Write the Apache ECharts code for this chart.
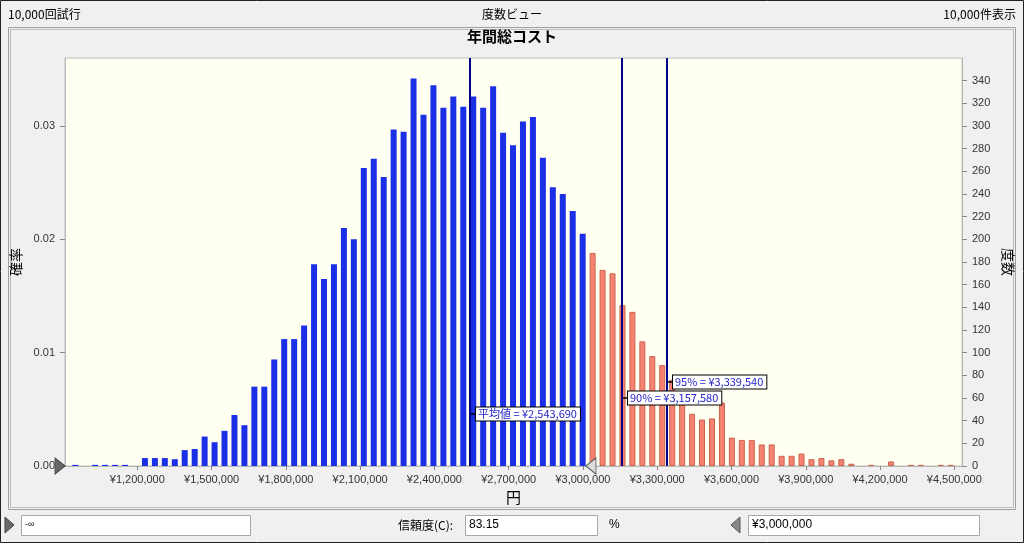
<!DOCTYPE html>
<html><head><meta charset="utf-8">
<script src="https://cdn.jsdelivr.net/npm/echarts@6/dist/echarts.min.js"></script>
<style>html,body{margin:0;padding:0;background:#f0f0f0;}#c{width:1024px;height:543px;}</style>
</head><body><div id="c"></div>
<script>
// ---- data ----
const trials = 10000;
const shownCount = 10000;
const binStart = 929400;   // lower edge of first bin (yen)
const binWidth = 40184;    // bin width (yen)
const counts = [1,0,1,1,1,1,0,7,7,7,6,14,15,26,21,31,45,36,70,70,94,112,112,124,178,165,178,210,200,263,271,255,297,295,342,310,336,316,326,317,326,316,335,294,283,304,308,272,246,240,225,205,188,173,170,142,136,110,97,89,76,64,46,41,42,56,25,23,23,19,19,9,9,11,6,7,5,6,2,0,1,0,4,0,1,1,0,1,1];
const meanValue = 2543690;
const p90Value = 3157580;
const p95Value = 3339540;
const certaintyLower = '-∞';
const certaintyUpper = 3000000;
const certaintyPct = '83.15';
const xMin = 907900, xMax = 4531100;
const countMax = 360;
const probTicks = ['0.00','0.01','0.02','0.03'];

const yen = v => '¥' + Math.round(v).toLocaleString('en-US');
const F = '"Liberation Sans","Noto Sans CJK JP",sans-serif';
const FJ = '"Noto Sans CJK JP","Liberation Sans",sans-serif';

const blue = {color:'#1a2fe6'};
const red = {color:'#f68372', borderColor:'#c8644f', borderWidth:1};
const barData = [];
counts.forEach((c,i)=>{
  if (c > 0) barData.push({value:[binStart + binWidth*(i+0.5), c], itemStyle: (binStart + binWidth*i < certaintyUpper) ? blue : red});
});

function valLabel(v, text, dy){
  return {coord:[v,0], symbol:'rect', symbolSize:[5,1.5], symbolOffset:[3.5,dy],
    itemStyle:{color:'#000'},
    label:{show:true, position:'right', distance:0, formatter:text,
      backgroundColor:'#fff', borderColor:'#000', borderWidth:1, padding:[1,3,0,2],
      fontSize:11, lineHeight:12, color:'#2323c8', fontFamily:FJ}};
}

const chart = echarts.init(document.getElementById('c'), null, {renderer:'canvas'});
chart.setOption({
  animation:false,
  backgroundColor:'#f0f0f0',
  title:{text:'年間総コスト', left:'center', top:29, padding:0,
    textStyle:{fontSize:15, fontWeight:'bold', color:'#000', fontFamily:FJ}},
  grid:{left:65, right:62, top:58, bottom:77, show:true, backgroundColor:'#fffff2', borderColor:'#c0c0c0', borderWidth:1},
  xAxis:{type:'value', min:xMin, max:xMax, splitNumber:12,
    axisLine:{show:true, lineStyle:{color:'#b8b8b8'}},
    axisTick:{show:true, length:4, lineStyle:{color:'#888'}},
    axisLabel:{formatter:v=>yen(v), fontSize:11, color:'#333', margin:8, showMinLabel:false, showMaxLabel:false, hideOverlap:false, fontFamily:F},
    splitLine:{show:false},
    name:'円', nameLocation:'middle', nameGap:19, nameTextStyle:{fontSize:15, color:'#000', fontFamily:FJ}},
  yAxis:[
    {type:'value', position:'left', min:0, max:countMax/trials, interval:0.01,
      axisLine:{show:true, lineStyle:{color:'#b8b8b8'}},
      axisTick:{show:true, length:5, lineStyle:{color:'#888'}},
      axisLabel:{formatter:(v)=>{const i=Math.round(v*100); return probTicks[i]||'';}, fontSize:11, color:'#333', margin:10, showMaxLabel:false, fontFamily:F},
      splitLine:{show:false},
      name:'確率', nameLocation:'middle', nameGap:34, nameTextStyle:{fontSize:14, color:'#000', fontFamily:FJ}},
    {type:'value', position:'right', min:0, max:countMax, interval:20,
      axisLine:{show:true, lineStyle:{color:'#b8b8b8'}},
      axisTick:{show:true, length:5, lineStyle:{color:'#888'}},
      axisLabel:{fontSize:11, color:'#333', margin:10, showMaxLabel:false, fontFamily:F},
      splitLine:{show:false},
      name:'度数', nameLocation:'middle', nameRotate:-90, nameGap:30, nameTextStyle:{fontSize:14, color:'#000', fontFamily:FJ}}
  ],
  series:[{
    type:'bar', yAxisIndex:1, barWidth:6, data:barData,
    markLine:{silent:true, symbol:['none','none'], label:{show:false},
      lineStyle:{color:'#00008b', width:2, type:'solid'},
      data:[{xAxis:meanValue},{xAxis:p90Value},{xAxis:p95Value}]},
    markPoint:{silent:true, data:[
      valLabel(meanValue, '平均値 = ' + yen(meanValue), -52),
      valLabel(p90Value, '90% = ' + yen(p90Value), -68),
      valLabel(p95Value, '95% = ' + yen(p95Value), -84),
      {coord:[certaintyUpper,0], symbol:'triangle', symbolSize:[16,10], symbolRotate:90, symbolOffset:[8,0],
        itemStyle:{color:'#dcdcdc', borderColor:'#555', borderWidth:1}, label:{show:false}},
      {coord:[xMin,0], symbol:'triangle', symbolSize:[16,10], symbolRotate:-90, symbolOffset:[-5,0],
        itemStyle:{color:'#6a6a6a', borderColor:'#444', borderWidth:1}, label:{show:false}}
    ]}
  }],
  graphic:[
    {type:'rect', shape:{x:0.5,y:0.5,width:1023,height:542}, style:{fill:null, stroke:'#222', lineWidth:1}, silent:true},
    {type:'text', left:8, top:8, style:{text: trials.toLocaleString('en-US') + '回試行', font:'12px '+FJ, fill:'#000'}},
    {type:'text', left:'center', top:8, style:{text:'度数ビュー', font:'12px '+FJ, fill:'#000'}},
    {type:'text', right:8, top:8, style:{text: shownCount.toLocaleString('en-US') + '件表示', font:'12px '+FJ, fill:'#000'}},
    {type:'rect', shape:{x:8.5,y:27.5,width:1007,height:482}, style:{fill:null, stroke:'#a0a0a0', lineWidth:1}, silent:true},
    {type:'rect', shape:{x:10.5,y:29.5,width:1003,height:478}, style:{fill:null, stroke:'#8a8a8a', lineWidth:1, lineDash:[1,1]}, silent:true},
    {type:'polygon', shape:{points:[[5,517],[14,525],[5,533]]}, style:{fill:'#6a6a6a', stroke:'#444'}},
    {type:'rect', shape:{x:21.5,y:515.5,width:229,height:20}, style:{fill:'#fff', stroke:'#a8a8a8'}},
    {type:'text', x:25, y:525, style:{text:certaintyLower, font:'9px '+F, fill:'#000', verticalAlign:'middle'}},
    {type:'text', x:398, y:525, style:{text:'信頼度(C):', font:'12px '+FJ, fill:'#000', verticalAlign:'middle'}},
    {type:'rect', shape:{x:465.5,y:515.5,width:132,height:20}, style:{fill:'#fff', stroke:'#a8a8a8'}},
    {type:'text', x:469, y:525, style:{text:certaintyPct, font:'12px '+F, fill:'#000', verticalAlign:'middle'}},
    {type:'text', x:609, y:525, style:{text:'%', font:'12px '+F, fill:'#000', verticalAlign:'middle'}},
    {type:'polygon', shape:{points:[[740,517],[731,525],[740,533]]}, style:{fill:'#8a8a8a', stroke:'#555'}},
    {type:'rect', shape:{x:748.5,y:515.5,width:231,height:20}, style:{fill:'#fff', stroke:'#a8a8a8'}},
    {type:'text', x:752, y:525, style:{text:yen(certaintyUpper), font:'12px '+F, fill:'#000', verticalAlign:'middle'}}
  ]
});
</script></body></html>
